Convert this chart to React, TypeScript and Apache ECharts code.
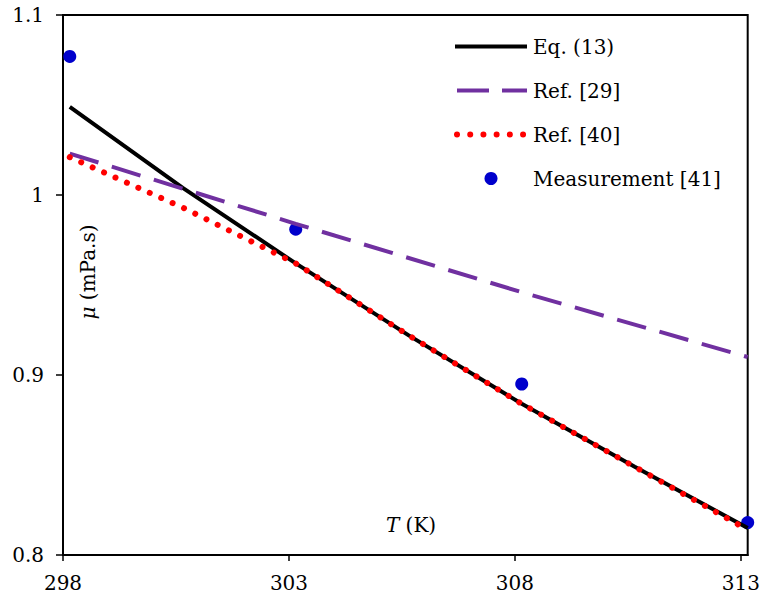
import React, { useEffect, useRef } from "react";
import * as echarts from "echarts";

const FONT = "DejaVu Serif";

const lineTemps = [298.15, 300.65, 303.15, 305.65, 308.15, 310.65, 313.15];
const eq13 = [1.049, 1.004, 0.962, 0.922, 0.884, 0.849, 0.815];
const ref29Temps = [298.15, 303.15, 308.15, 313.15];
const ref29 = [1.023, 0.984, 0.946, 0.91];
const ref40 = [1.021, 0.993, 0.962, 0.922, 0.884, 0.849, 0.814];
const measTemps = [298.15, 303.15, 308.15, 313.15];
const measurement = [1.077, 0.981, 0.895, 0.818];
const xTicks = [298, 303, 308, 313];
const legendNames = ["Eq. (13)", "Ref. [29]", "Ref. [40]", "Measurement [41]"];

const BLACK = "#000000";
const PURPLE = "#7030a0";
const RED = "#ff0000";
const BLUE = "#0000cc";

const pairs = (xs: number[], ys: number[]) => xs.map((x, i) => [x, ys[i]]);

export default function App() {
  const ref = useRef<HTMLDivElement>(null);
  useEffect(() => {
    if (!ref.current) return;
    const chart = echarts.init(ref.current, undefined, { renderer: "svg" });

    const rowY = [46.5, 90.5, 134.5, 178.5];
    const iconX1 = 455;
    const iconX2 = 527;
    const legendGraphics: any[] = [
      {
        type: "line",
        shape: { x1: iconX1, y1: rowY[0], x2: iconX2, y2: rowY[0] },
        style: { stroke: BLACK, lineWidth: 4 },
      },
      {
        type: "line",
        shape: { x1: iconX1 + 2, y1: rowY[1], x2: iconX2, y2: rowY[1] },
        style: { stroke: PURPLE, lineWidth: 4, lineDash: [32, 13] },
      },
      {
        type: "line",
        shape: { x1: 457, y1: rowY[2], x2: 524, y2: rowY[2] },
        style: { stroke: RED, lineWidth: 6, lineDash: [0.01, 13.2], lineCap: "round" },
      },
      {
        type: "circle",
        shape: { cx: 491, cy: rowY[3], r: 6.5 },
        style: { fill: BLUE },
      },
      ...legendNames.map((n, i) => ({
        type: "text",
        x: 533,
        y: rowY[i],
        style: {
          text: n,
          font: `20px "${FONT}"`,
          fill: "#000",
          align: "left",
          verticalAlign: "middle",
        },
      })),
    ];

    chart.setOption({
      animation: false,
      backgroundColor: "#fff",
      textStyle: { fontFamily: FONT },
      grid: {
        left: 63,
        right: 14,
        top: 15,
        bottom: 43,
        show: true,
        borderColor: "#000",
        borderWidth: 2,
      },
      xAxis: {
        type: "value",
        min: 298,
        max: 313.15,
        interval: 5,
        axisLine: { lineStyle: { color: "#000", width: 2 } },
        axisTick: { show: true, length: 6, lineStyle: { color: "#000", width: 1.5 }, customValues: xTicks },
        axisLabel: {
          customValues: xTicks,
          fontFamily: FONT,
          fontSize: 20,
          color: "#000",
          margin: 18,
          formatter: (v: number) => (Number.isInteger(v) ? String(v) : ""),
        },
        splitLine: { show: false },
      },
      yAxis: {
        type: "value",
        min: 0.8,
        max: 1.1,
        interval: 0.1,
        axisLine: { show: true, lineStyle: { color: "#000", width: 2 } },
        axisTick: { show: true, length: 7, lineStyle: { color: "#000", width: 1.5 } },
        axisLabel: {
          fontFamily: FONT,
          fontSize: 20,
          color: "#000",
          margin: 19,
          formatter: (v: number) => String(+v.toFixed(1)),
        },
        splitLine: { show: false },
      },
      graphic: [
        {
          type: "text",
          x: 88,
          y: 272,
          rotation: Math.PI / 2,
          style: {
            text: "{i|μ} (mPa.s)",
            font: `20px "${FONT}"`,
            fill: "#000",
            align: "center",
            verticalAlign: "middle",
            rich: { i: { fontStyle: "italic", fontFamily: FONT, fontSize: 20 } },
          },
        },
        {
          type: "text",
          x: 411,
          y: 525,
          style: {
            text: "{i|T} (K)",
            font: `20px "${FONT}"`,
            fill: "#000",
            align: "center",
            verticalAlign: "middle",
            rich: { i: { fontStyle: "italic", fontFamily: FONT, fontSize: 20 } },
          },
        },
        ...legendGraphics,
      ],
      series: [
        {
          name: legendNames[0],
          type: "line",
          data: pairs(lineTemps, eq13),
          showSymbol: false,
          symbol: "none",
          color: BLACK,
          lineStyle: { color: BLACK, width: 4 },
        },
        {
          name: legendNames[1],
          type: "line",
          data: pairs(ref29Temps, ref29),
          showSymbol: false,
          symbol: "none",
          color: PURPLE,
          lineStyle: { color: PURPLE, width: 4, type: [30, 14] },
        },
        {
          name: legendNames[2],
          type: "line",
          data: pairs(lineTemps, ref40),
          showSymbol: false,
          symbol: "none",
          color: RED,
          lineStyle: { color: RED, width: 6, type: [0.01, 12.5], cap: "round" },
        },
        {
          name: legendNames[3],
          type: "scatter",
          data: pairs(measTemps, measurement),
          symbol: "circle",
          symbolSize: 13,
          color: BLUE,
          itemStyle: { color: BLUE, opacity: 1 },
        },
      ],
    });
    return () => chart.dispose();
  }, []);
  return <div ref={ref} style={{ width: 763, height: 598, position: "absolute", left: 0, top: 0 }} />;
}
